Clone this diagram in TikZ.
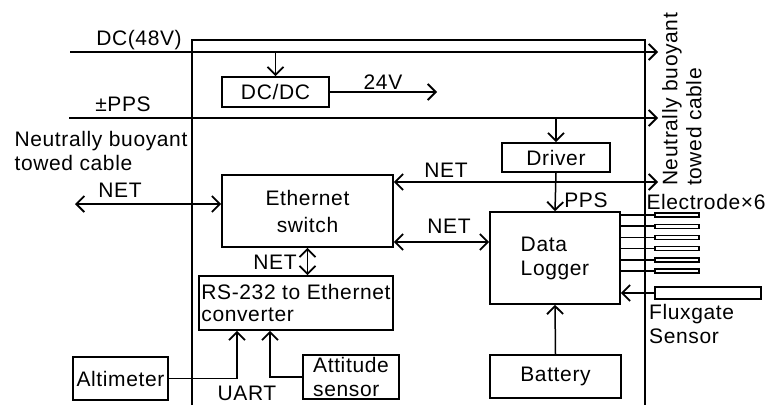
\documentclass[tikz,border=0pt]{standalone}
\usepackage{fontspec}
\setmainfont{Liberation Sans}[LetterSpace=3]
\usetikzlibrary{arrows.meta}
\usetikzlibrary{positioning}

\begin{document}
\begin{tikzpicture}[x=1pt, y=-1pt, font=\fontsize{21}{24}\selectfont,
    box/.style={draw, line width=1.6pt, inner sep=0pt, align=center},
    elec/.style={draw, line width=1.4pt, inner sep=0pt, minimum width=44pt, minimum height=4pt},
    wire/.style={line width=1.5pt},
    lbl/.style={inner sep=0pt},
    >={Straight Barb[length=8pt, width=16pt, line width=1.8pt]}]
        \useasboundingbox (0,0) rectangle (771,405);

        % Housing of the towed body
        \draw[line width=2.2pt] (192,405) -- (192,40) -- (645,40) -- (645,405);

        % Cable ends
        \coordinate (dcin) at (70,52);
        \coordinate (dcout) at (658,52);
        \coordinate (ppsin) at (69,118);
        \coordinate (ppsout) at (658,118);
        \coordinate (netin) at (75,204);
        \coordinate (netout) at (658,182);
        \coordinate (v24) at (437,92);

        % Blocks
        \node[box, minimum width=107pt, minimum height=30pt] (dcdc) at (275.5,92) {DC/DC};
        \node[box, minimum width=108pt, minimum height=29pt] (driver) at (556,157.5) {Driver};
        \node[box, minimum width=171pt, minimum height=72pt, font=\fontsize{21}{27}\selectfont] (switch) at (307.5,211) {Ethernet\\switch};
        \node[box, minimum width=130pt, minimum height=92pt, align=left] (logger) at (555,258) {Data\\Logger};
        \node[box, minimum width=194pt, minimum height=54pt, align=left, font=\fontsize{21}{22}\selectfont] (rs) at (296,303) {RS-232 to Ethernet\\converter};
        \node[box, minimum width=95pt, minimum height=43pt] (alt) at (120.5,378.5) {Altimeter};
        \node[box, minimum width=96pt, minimum height=44pt, align=left] (att) at (351,377) {Attitude\\sensor};
        \node[box, minimum width=131pt, minimum height=43pt] (bat) at (555.5,376.5) {Battery};
        \node[elec, minimum width=106pt, minimum height=12pt] (flux) at (708,293) {};

        % Electrodes
        \foreach \i in {0,...,5}
        {
          \node[elec] (e\i) at (677,{215+11.2*\i}) {};
          \draw[wire] (logger.east |- e\i.west) -- (e\i.west);
        }

        % Power and PPS lines
        \draw[wire, ->] (dcin) -- (dcout);
        \draw[wire, ->] (ppsin) -- (ppsout);
        \draw[wire, ->] (dcdc.north |- dcin) -- (dcdc.north);
        \draw[wire, ->] (dcdc.east) -- (v24);
        \draw[wire, ->] (driver.north |- ppsin) -- (driver.north);
        \draw[wire, ->] (driver.south) -- (logger.north);

        % Network
        \draw[wire, <->] (netin) -- (switch.west |- netin);
        \draw[wire, <->] (switch.east |- netout) -- (netout);
        \draw[wire, <->] ([yshift=-31pt]switch.east) coordinate (s1) -- (s1 -| logger.west);
        \draw[wire, <->] (switch.south) -- (switch.south |- rs.north);

        % Sensors
        \draw[wire, ->] (alt.east) -| ([xshift=-59pt]rs.south);
        \draw[wire, ->] (att.west) -| ([xshift=-26pt]rs.south);
        \draw[wire, ->] (bat.north) -- (logger.south);
        \draw[wire, ->] (flux.west) -- (logger.east |- flux.west);

        % Labels
        \node[lbl] (ldc) at (139,40) {DC(48V)};
        \node[lbl] (lpps) at (123,104) {±PPS};
        \node[lbl] (l24) at (383,82) {24V};
        \node[lbl, align=left] (lcable) at (101,151) {Neutrally buoyant\\towed cable};
        \node[lbl, rotate=90, anchor=north west, align=left] (rcable) at (662,186) {Neutrally buoyant\\towed cable};
        \node[lbl] (lnet1) at (120,190) {NET};
        \node[lbl] (lnet2) at (446,170) {NET};
        \node[lbl] (lnet3) at (449,226) {NET};
        \node[lbl] (lnet4) at (275,262) {NET};
        \node[lbl] (lppsd) at (586,200) {PPS};
        \node[lbl] (luart) at (247,393) {UART};
        \node[lbl] (lelec) at (706,202) {Electrode×6};
        \node[lbl, anchor=west, align=left] (lflux) at (649,324) {Fluxgate\\Sensor};
      \end{tikzpicture}
\end{document}
